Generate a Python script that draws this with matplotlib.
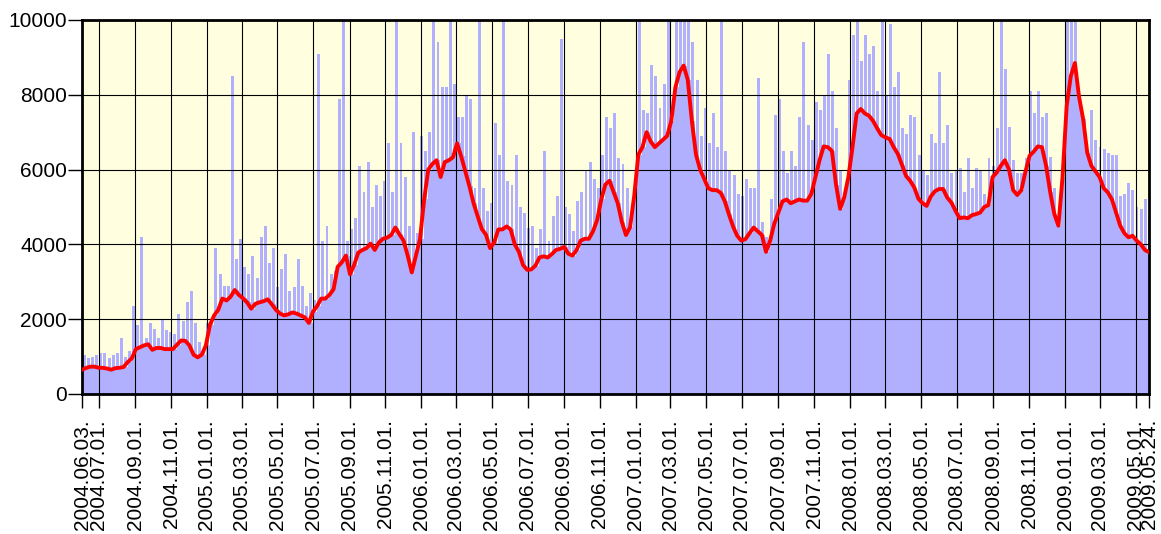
import matplotlib
matplotlib.use('Agg')
import matplotlib.pyplot as plt
import matplotlib.transforms as mtrans
import numpy as np
from datetime import date

plt.rcParams['font.family'] = ['Liberation Sans', 'DejaVu Sans']

start = date(2004, 6, 3)
end = date(2009, 5, 24)

tick_labels = ['2004.06.03.', '2004.07.01.', '2004.09.01.', '2004.11.01.',
               '2005.01.01.', '2005.03.01.', '2005.05.01.', '2005.07.01.',
               '2005.09.01.', '2005.11.01.', '2006.01.01.', '2006.03.01.',
               '2006.05.01.', '2006.07.01.', '2006.09.01.', '2006.11.01.',
               '2007.01.01.', '2007.03.01.', '2007.05.01.', '2007.07.01.',
               '2007.09.01.', '2007.11.01.', '2008.01.01.', '2008.03.01.',
               '2008.05.01.', '2008.07.01.', '2008.09.01.', '2008.11.01.',
               '2009.01.01.', '2009.03.01.', '2009.05.01.', '2009.05.24.']

# weekly peaks of the daily bars (week 0 starts 2004.06.03)
weekly_peak = [
    1050, 950, 1000, 1050, 1100, 1100, 950, 1050, 1100, 1500, 1000, 1150, 2350,
    1850, 4200, 1500, 1900, 1750, 1500, 2000, 1700, 1650, 1600, 2150, 1950, 2450,
    2750, 1900, 1400, 1200, 1900, 1900, 3900, 3200, 2900, 2900, 8500, 3600, 4150,
    3400, 3200, 3700, 3100,
    4200, 4500, 3500, 3900, 2850, 3350, 3750, 2750, 2850, 3600, 2900, 2350, 2700,
    2500, 9100, 4100, 4500, 3200, 3300, 7900, 10000, 4100, 4400, 4700, 6100, 5400,
    6200, 5000, 5600, 5300, 5700, 6700, 5400, 10000, 6700, 5800, 4500, 7000, 4300,
    6900, 6500, 7000, 10000, 9400,
    8200, 8200, 10000, 8300, 7400, 7400, 8000, 7900, 5500, 10000, 5500, 4900, 5100,
    7250, 6400, 10000, 5700, 5600, 6400, 5000, 4850, 4450, 4500, 3900, 4400, 6500,
    4100, 4750, 5300, 9500, 5000, 4800, 4350, 5150, 5400, 6000, 6200, 5750, 5500,
    6400, 7400, 7100, 7500, 6300,
    6150, 5500, 4100, 5100, 10000, 7600, 7500, 8800, 8500, 7650, 8300, 10000, 7100,
    10000, 10000, 10000, 10000, 9400, 8400, 6900, 7650, 6700, 7500, 6600, 10000,
    6500, 6000, 5850, 5350, 5300, 5750, 5500, 5500, 8450, 4600, 4200, 5200, 7450,
    7900, 6500, 5900, 6500, 6100, 7400,
    9400, 7200, 6800, 7800, 7600, 8000, 9100, 8100, 7100, 6000, 5500, 8400, 9600,
    10000, 8900, 9600, 9100, 9300, 8100, 10000, 8000, 9900, 8200, 8600, 7100, 6950,
    7450, 7400, 6400, 5950, 5850, 6950, 6700, 8600, 6700, 7200, 5900, 6000, 6050,
    5400, 6300, 5500, 6050,
    6000, 5350, 6300, 6100, 7100, 10000, 8700, 7150, 6250, 5900, 5900, 6300, 8100,
    7500, 8100, 7400, 7500, 6330, 5500, 3800, 5200, 10000, 10000, 10000, 7400, 6600,
    6400, 7600, 6800, 6600, 6550, 6450, 6400, 6400, 5300, 5350, 5650, 5450, 5000,
    4950, 5200, 4700]

# moving average (red line), one value per week
weekly_avg = [
    650, 700, 730, 730, 700, 700, 680, 650, 690, 700, 720, 850, 950, 1200, 1250,
    1300, 1330, 1180, 1230, 1230, 1200, 1200, 1200, 1320, 1430, 1420, 1300, 1050,
    980, 1050, 1300, 1850, 2100, 2250, 2550, 2500, 2600, 2780, 2650, 2560, 2450,
    2280, 2410,
    2450, 2480, 2530, 2400, 2250, 2150, 2100, 2130, 2180, 2150, 2100, 2050, 1900,
    2200, 2350, 2550, 2550, 2650, 2800, 3400, 3520, 3700, 3200, 3450, 3780, 3850,
    3900, 4020, 3850, 4050, 4150, 4180, 4250, 4450, 4270, 4100, 3700, 3250, 3700,
    4150, 5200, 6000, 6150, 6250,
    5800, 6200, 6250, 6330, 6700, 6350, 5950, 5550, 5100, 4750, 4410, 4260, 3900,
    4050, 4400, 4400, 4480, 4400, 4000, 3800, 3450, 3320, 3330, 3430, 3650, 3680,
    3650, 3740, 3850, 3880, 3930, 3750, 3700, 3850, 4100, 4150, 4150, 4350, 4650,
    5200, 5600, 5700, 5400, 5100,
    4600, 4250, 4460, 5300, 6400, 6600, 7000, 6750, 6600, 6700, 6800, 6900, 7300,
    8200, 8600, 8780, 8400, 7300, 6400, 6000, 5750, 5500, 5450, 5450, 5380, 5150,
    4800, 4480, 4230, 4100, 4140, 4300, 4450, 4350, 4250, 3800, 4100, 4550, 4850,
    5150, 5200, 5100, 5150, 5200,
    5170, 5170, 5350, 5800, 6250, 6620, 6600, 6500, 5600, 4950, 5260, 5800, 6600,
    7500, 7620, 7500, 7440, 7300, 7100, 6920, 6860, 6820, 6600, 6420, 6130, 5830,
    5700, 5520, 5220, 5100, 5030, 5280, 5420, 5480, 5480, 5250, 5120, 4900, 4700,
    4720, 4700, 4780, 4810,
    4850, 5000, 5050, 5800, 5920, 6100, 6250, 6000, 5450, 5320, 5450, 5950, 6370,
    6480, 6620, 6600, 6100, 5400, 4810, 4500, 5800, 7700, 8500, 8850, 7950, 7350,
    6450, 6100, 5950, 5800, 5500, 5390, 5200, 4850, 4500, 4300, 4190, 4230, 4100,
    4000, 3850, 3790]


def day_of(label):
    y, m, d = [int(p) for p in label.strip('.').split('.')]
    return (date(y, m, d) - start).days


total_days = (end - start).days
n = len(weekly_peak)
centers = np.arange(n) * 7 + 3.5

fig = plt.figure(figsize=(11.61, 5.34), dpi=100)
ax = fig.add_axes([0.0709, 0.2622, 0.9188, 0.7004])
ax.set_facecolor('#ffffe0')

# daily bars: solid body up to the average level, spikes up to the peaks
ax.bar(centers, weekly_avg, width=7, color='#b0b0ff', linewidth=0, zorder=1)
ax.bar(centers, weekly_peak, width=5, color='#b0b0ff', linewidth=0, zorder=1)
ax.plot(np.linspace(0, total_days, n), weekly_avg, color='#ff0000', lw=2.8,
        solid_joinstyle='round', zorder=3)

ax.set_xlim(0, total_days)
ax.set_ylim(0, 10000)
ax.set_yticks(range(0, 10001, 2000))
ax.set_xticks([day_of(s) for s in tick_labels])
ax.set_xticklabels(tick_labels, rotation=90, va='top')
shift = mtrans.ScaledTranslation(3 / 100, 0, fig.dpi_scale_trans)
for lab in ax.get_xticklabels():
    lab.set_transform(lab.get_transform() + shift)

ax.set_axisbelow(False)
ax.grid(True, color='black', lw=0.8)
for sp in ax.spines.values():
    sp.set_linewidth(2)
ax.tick_params(axis='both', length=10, width=1, labelsize=15, color='black')
ax.tick_params(axis='y', pad=1)
ax.tick_params(axis='x', pad=8)

fig.savefig('out.png', dpi=100)
